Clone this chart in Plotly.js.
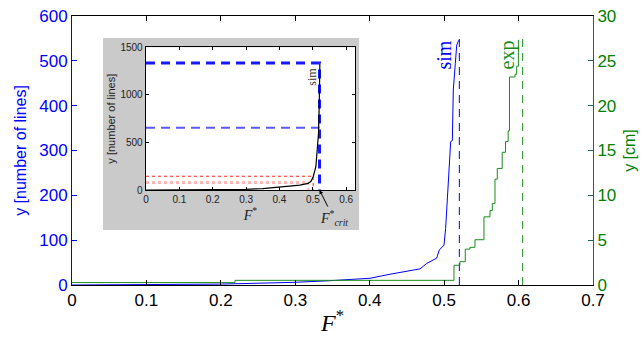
<!DOCTYPE html>
<html>
<head>
<meta charset="utf-8">
<script src="https://cdn.plot.ly/plotly-3.0.1.min.js"></script>
<style>html,body{margin:0;padding:0;background:#fff;}#chart{width:643px;height:340px;}</style>
</head>
<body>
<div id="chart"></div>
<script>
// Main chart: simulation (number of lines, left axis)
const simF = [0, 0.1, 0.2, 0.25, 0.3, 0.3466, 0.4004, 0.4272, 0.454, 0.4676, 0.4766, 0.49, 0.4935, 0.4998, 0.502, 0.5034, 0.5065, 0.5088, 0.511, 0.5123, 0.515, 0.5169, 0.5195];
const simLines = [0, 0.5, 2, 4, 6, 9.6, 15, 24, 32, 36, 48, 60, 78, 89, 126, 167, 256, 320, 322, 435, 494, 535, 546];
// Main chart: experiment (cm, right axis), step curve
const expF = [0, 0.219, 0.5132, 0.5212, 0.5284, 0.5347, 0.5414, 0.5535, 0.5616, 0.5647, 0.5683, 0.5714, 0.578, 0.5825, 0.586, 0.5878, 0.5952, 0.5975, 0.5997, 0.6006];
const expCm = [0.27, 0.52, 2.2, 2.6, 4.0, 4.2, 5.05, 7.6, 8.3, 9.1, 11.8, 13.0, 14.8, 16.0, 17.2, 23.2, 23.5, 24.4, 27.3, 27.3];
// Critical values (dashed verticals)
const simCritF = 0.5204;
const expCritF = 0.6055;
const critTopLines = 557;
const critTopCm = 27.85;
// Inset: simulation curve
const insetF = [0, 0.1, 0.2, 0.3, 0.35, 0.401, 0.43, 0.461, 0.486, 0.495, 0.501, 0.505, 0.509, 0.513, 0.517, 0.519, 0.521];
const insetLines = [0, 1, 3, 8, 15, 35, 42, 52, 70, 95, 140, 190, 245, 420, 596, 876, 1330];
const insetCritF = 0.52;
const insetMaxLines = 1335;
const insetHalfLines = 655;
const insetRedHighF = 0.501, insetRedHighY = 145;
const insetRedLowF = 0.486, insetRedLowY1 = 85, insetRedLowY2 = 72;
// Tick values
const xTicks = [0, 0.1, 0.2, 0.3, 0.4, 0.5, 0.6, 0.7];
const yLeftTicks = [0, 100, 200, 300, 400, 500, 600];
const yRightTicks = [0, 5, 10, 15, 20, 25, 30];
const insetXTicks = [0, 0.1, 0.2, 0.3, 0.4, 0.5, 0.6];
const insetYTicks = [0, 500, 1000, 1500];

const BLUE = '#0000ff', GREEN = '#008000';
const traces = [
  {x: simF, y: simLines, mode: 'lines', line: {color: BLUE, width: 1}, xaxis: 'x', yaxis: 'y', hoverinfo: 'skip'},
  {x: expF, y: expCm, mode: 'lines', line: {color: '#1a8c1a', width: 1, shape: 'hv'}, xaxis: 'x', yaxis: 'y2', hoverinfo: 'skip'},
  {x: [simCritF, simCritF], y: [0, critTopLines], mode: 'lines', line: {color: BLUE, width: 1, dash: '8px,6px'}, xaxis: 'x', yaxis: 'y'},
  {x: [expCritF, expCritF], y: [0, critTopCm], mode: 'lines', line: {color: '#1a8c1a', width: 1, dash: '8px,6px'}, xaxis: 'x', yaxis: 'y2'},
  // inset
  {x: [0, insetRedHighF, insetRedHighF], y: [insetRedHighY, insetRedHighY, 0], mode: 'lines', line: {color: '#ff2020', width: 1, dash: 'dot'}, xaxis: 'x3', yaxis: 'y3'},
  {x: [0, insetRedLowF, insetRedLowF], y: [insetRedLowY1, insetRedLowY1, 0], mode: 'lines', line: {color: '#ff8080', width: 1, dash: 'dot'}, xaxis: 'x3', yaxis: 'y3'},
  {x: [0, insetRedLowF], y: [insetRedLowY2, insetRedLowY2], mode: 'lines', line: {color: '#ff9090', width: 1, dash: 'dot'}, xaxis: 'x3', yaxis: 'y3'},
  {x: [0, insetCritF], y: [insetHalfLines, insetHalfLines], mode: 'lines', line: {color: '#5a5aff', width: 2, dash: '9px,6px'}, xaxis: 'x3', yaxis: 'y3'},
  {x: [0, insetCritF, insetCritF], y: [insetMaxLines, insetMaxLines, 0], mode: 'lines', line: {color: '#1818ff', width: 3, dash: '9px,6px'}, xaxis: 'x3', yaxis: 'y3'},
  {x: insetF, y: insetLines, mode: 'lines', line: {color: '#000', width: 1.2}, xaxis: 'x3', yaxis: 'y3'}
];

const tickFont = {family: 'Liberation Sans, Arial, sans-serif', size: 17};
const insetTickFont = {family: 'Liberation Sans, Arial, sans-serif', size: 10, color: '#222'};
const layout = {
  width: 643, height: 340,
  margin: {l: 72, r: 50, t: 16, b: 55},
  paper_bgcolor: '#fff', plot_bgcolor: 'rgba(0,0,0,0)',
  showlegend: false,
  xaxis: {range: [0, 0.7], tickvals: xTicks, ticktext: xTicks.map(v => v === 0 ? '0' : v.toFixed(1)),
    ticks: 'inside', ticklen: 5, tickcolor: '#000', showline: true, linecolor: '#000', mirror: 'ticks',
    showgrid: false, zeroline: false, tickfont: Object.assign({color: '#000'}, tickFont),
    title: {text: '<i>F</i><sup>*</sup>', font: {family: 'Liberation Serif, Times New Roman, serif', size: 24, color: '#000'}, standoff: 4},
    domain: [0, 1], anchor: 'y'},
  yaxis: {range: [0, 600], tickvals: yLeftTicks, ticks: 'inside', ticklen: 5, tickcolor: BLUE,
    showline: true, linecolor: BLUE, showgrid: false, zeroline: false,
    tickfont: Object.assign({color: BLUE}, tickFont),
    title: {text: 'y [number of lines]', font: {family: 'Liberation Sans, Arial, sans-serif', size: 16, color: BLUE}, standoff: 8}},
  yaxis2: {range: [0, 30], tickvals: yRightTicks, ticks: 'inside', ticklen: 5, tickcolor: '#1a6a5a',
    overlaying: 'y', side: 'right', showline: true, linecolor: '#1a6a5a', showgrid: false, zeroline: false,
    tickfont: Object.assign({color: GREEN}, tickFont),
    title: {text: 'y [cm]', font: {family: 'Liberation Sans, Arial, sans-serif', size: 16, color: GREEN}, standoff: 8}},
  xaxis3: {domain: [0.142, 0.543], anchor: 'y3', range: [0, 0.626], tickvals: insetXTicks,
    ticktext: insetXTicks.map(v => v === 0 ? '0' : v.toFixed(1)),
    ticks: 'inside', ticklen: 3, tickcolor: '#000', showline: true, linecolor: '#000', linewidth: 1.3, mirror: 'ticks',
    showgrid: false, zeroline: false, tickfont: insetTickFont,
    title: {text: '<i>F</i><sup>*</sup>', font: {family: 'Liberation Serif, Times New Roman, serif', size: 14, color: '#222'}, standoff: 0}},
  yaxis3: {domain: [0.353, 0.8836], anchor: 'x3', range: [0, 1500], tickvals: insetYTicks,
    ticks: 'inside', ticklen: 3, tickcolor: '#000', showline: true, linecolor: '#000', linewidth: 1.3, mirror: 'ticks',
    showgrid: false, zeroline: false, tickfont: insetTickFont,
    title: {text: 'y [number of lines]', font: {family: 'Liberation Sans, Arial, sans-serif', size: 11, color: '#222'}, standoff: 2}},
  shapes: [
    {type: 'rect', xref: 'paper', yref: 'paper', x0: 0.0595, x1: 0.551, y0: 0.2045, y1: 0.918,
      fillcolor: '#cacaca', line: {width: 0}, layer: 'below'},
    {type: 'rect', xref: 'paper', yref: 'paper', x0: 0.142, x1: 0.543, y0: 0.353, y1: 0.8836,
      fillcolor: '#ffffff', line: {width: 0}, layer: 'below'}
  ],
  annotations: [
    {text: 'sim', x: 0.5, y: 512, xref: 'x', yref: 'y', showarrow: false, textangle: -90,
      font: {family: 'Liberation Serif, Times New Roman, serif', size: 20, color: BLUE}},
    {text: 'exp', x: 0.5845, y: 512, xref: 'x', yref: 'y', showarrow: false, textangle: -90,
      font: {family: 'Liberation Serif, Times New Roman, serif', size: 20, color: '#1a8c1a'}},
    {text: 'sim', x: 0.497, y: 1190, xref: 'x3', yref: 'y3', showarrow: false, textangle: -90,
      font: {family: 'Liberation Serif, Times New Roman, serif', size: 12, color: '#333'}},
    {text: '<i>F</i><sup>*</sup><sub><i>crit</i></sub>', x: insetCritF, y: 0, xref: 'x3', yref: 'y3',
      showarrow: true, arrowhead: 2, arrowsize: 0.8, arrowwidth: 1, arrowcolor: '#000', ax: 14, ay: 28,
      font: {family: 'Liberation Serif, Times New Roman, serif', size: 14, color: '#222'}}
  ]
};
Plotly.newPlot('chart', traces, layout, {staticPlot: true, displayModeBar: false});
</script>
</body>
</html>
